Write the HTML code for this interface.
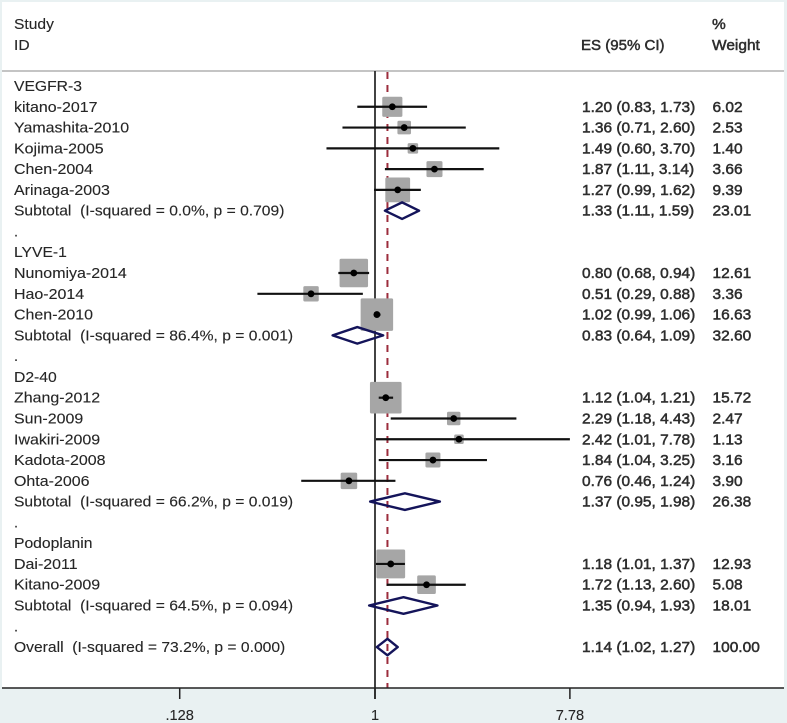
<!DOCTYPE html>
<html lang="en">
<head>
<meta charset="utf-8">
<title>Forest plot</title>
<style>
html,body{margin:0;padding:0;background:#e9f1f2;}
svg{display:block;filter:blur(0.3px);}
text{font-family:"Liberation Sans",Arial,sans-serif;font-size:14.6px;fill:#262626;stroke:#262626;stroke-width:0.12px;}
.val{fill:#2e2e2e;stroke:#2e2e2e;stroke-width:0.5px;}
</style>
</head>
<body>
<svg id="plot" width="787" height="723" viewBox="0 0 787 723" xmlns="http://www.w3.org/2000/svg">
  <rect x="0" y="0" width="787" height="723" fill="#e9f1f2"/>
  <rect x="2" y="2" width="782" height="686" fill="#ffffff"/>
  <text transform="translate(14,29) scale(1.07,1)">Study</text>
  <text transform="translate(14,50) scale(1.07,1)">ID</text>
  <text class="val" transform="translate(581,50) scale(1.03,1)">ES (95% CI)</text>
  <text class="val" transform="translate(712,29) scale(1.06,1)">%</text>
  <text class="val" transform="translate(712,50) scale(1.06,1)">Weight</text>
  <line x1="2" y1="71" x2="784" y2="71" stroke="#b0b0b0" stroke-width="1.5"/>
  <g id="marks"></g>
  <g id="rows"></g>
  <g id="axis"></g>
</svg>
<script>
const rowLabels = ["VEGFR-3","kitano-2017","Yamashita-2010","Kojima-2005","Chen-2004","Arinaga-2003","Subtotal  (I-squared = 0.0%, p = 0.709)",".","LYVE-1","Nunomiya-2014","Hao-2014","Chen-2010","Subtotal  (I-squared = 86.4%, p = 0.001)",".","D2-40","Zhang-2012","Sun-2009","Iwakiri-2009","Kadota-2008","Ohta-2006","Subtotal  (I-squared = 66.2%, p = 0.019)",".","Podoplanin","Dai-2011","Kitano-2009","Subtotal  (I-squared = 64.5%, p = 0.094)",".","Overall  (I-squared = 73.2%, p = 0.000)"];
const rowKinds = ["h","s","s","s","s","s","d","b","h","s","s","s","d","b","h","s","s","s","s","s","d","b","h","s","s","d","b","d"];
const effects = [null,1.20,1.36,1.49,1.87,1.27,1.33,null,null,0.80,0.51,1.02,0.83,null,null,1.12,2.29,2.42,1.84,0.76,1.37,null,null,1.18,1.72,1.35,null,1.14];
const lowers = [null,0.83,0.71,0.60,1.11,0.99,1.11,null,null,0.68,0.29,0.99,0.64,null,null,1.04,1.18,1.01,1.04,0.46,0.95,null,null,1.01,1.13,0.94,null,1.02];
const uppers = [null,1.73,2.60,3.70,3.14,1.62,1.59,null,null,0.94,0.88,1.06,1.09,null,null,1.21,4.43,7.78,3.25,1.24,1.98,null,null,1.37,2.60,1.93,null,1.27];
const weights = [null,6.02,2.53,1.40,3.66,9.39,23.01,null,null,12.61,3.36,16.63,32.60,null,null,15.72,2.47,1.13,3.16,3.90,26.38,null,null,12.93,5.08,18.01,null,100.00];
const tickValues = [0.128,1,7.78];
const tickLabels = [".128","1","7.78"];
const overallEffect = 1.14;

const NS = "http://www.w3.org/2000/svg";
const xScale = v => 375 + 95 * Math.log(v);
const yScale = i => 86 + 20.78 * i;
const marks = document.getElementById("marks");
const rows = document.getElementById("rows");
const axis = document.getElementById("axis");

function make(parent, tag, attrs, text) {
  const el = document.createElementNS(NS, tag);
  for (const k in attrs) el.setAttribute(k, attrs[k]);
  if (text !== undefined) {
    el.textContent = text;
    el.style.whiteSpace = "pre";
  }
  parent.appendChild(el);
  return el;
}

const nullLine = make(marks, "line", {x1:xScale(1), y1:71, x2:xScale(1), y2:699, stroke:"#222", "stroke-width":1.7});



const overallLine = make(marks, "line", {x1:xScale(overallEffect), y1:72, x2:xScale(overallEffect), y2:688, stroke:"#9c2c3c", "stroke-width":2, "stroke-dasharray":"7 6"});



const labelStretch = {h:1.075, s:1.095, d:1.072, b:1};

rowLabels.forEach((label, i) => {
  const y = yScale(i);
  const t = make(rows, "text", {transform:"translate(14," + (y + 5) + ") scale(" + labelStretch[rowKinds[i]] + ",1)"}, label);
  
  
  if (effects[i] === null) return;

  const es = make(rows, "text", {transform:"translate(582," + (y + 5) + ") scale(1.058,1)", class:"val"}, effects[i].toFixed(2) + " (" + lowers[i].toFixed(2) + ", " + uppers[i].toFixed(2) + ")");
  
  

  const w = make(rows, "text", {transform:"translate(712.5," + (y + 5) + ") scale(1.06,1)", class:"val"}, weights[i].toFixed(2));
  
  

  const cx = xScale(effects[i]);
  const lo = xScale(lowers[i]);
  const hi = xScale(uppers[i]);
  if (rowKinds[i] === "s") {
    const size = 1.5 + 7.6 * Math.sqrt(weights[i]);
    const box = make(marks, "rect", {x:cx - size / 2, y:y - size / 2, width:size, height:size, rx:1.5, fill:"#a6a6a6"});
    
    

    const ci = make(marks, "line", {x1:lo, y1:y, x2:hi, y2:y, stroke:"#111", "stroke-width":2.2});
    
    

    const dot = make(marks, "circle", {cx:cx, cy:y, r:3.4, fill:"#000"});
    
    
  } else {
    const h = 8.3;
    const dia = make(marks, "path", {d:"M" + lo + " " + y + "L" + cx + " " + (y - h) + "L" + hi + " " + y + "L" + cx + " " + (y + h) + "Z", fill:"none", stroke:"#14145a", "stroke-width":2.4, "stroke-linejoin":"round"});
    
    
  }
});

const axisLine = make(axis, "line", {x1:2, y1:688, x2:784, y2:688, stroke:"#222", "stroke-width":1.6});



tickValues.forEach((v, i) => {
  const tick = make(axis, "line", {x1:xScale(v), y1:688, x2:xScale(v), y2:699, stroke:"#222", "stroke-width":1.5});
  
  

  const lab = make(axis, "text", {x:xScale(v), y:720, "text-anchor":"middle"}, tickLabels[i]);
  
  
});
</script>
</body>
</html>
